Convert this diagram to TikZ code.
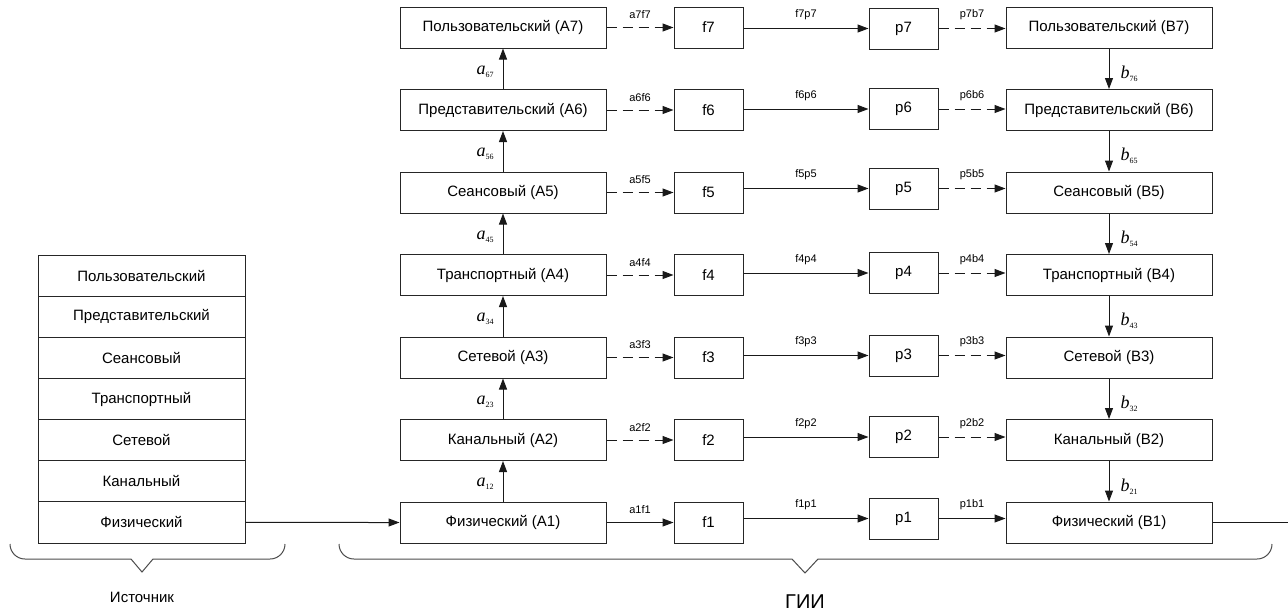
\documentclass[tikz,border=0pt]{standalone}
\usepackage{fontspec}
\setmainfont{Liberation Sans}
\newfontfamily\serifit{Liberation Serif}
\usetikzlibrary{arrows.meta,calc}
\begin{document}
\begin{tikzpicture}[x=1pt,y=-1pt,
  box/.style={draw=black!85, line width=1pt, minimum height=41pt, inner sep=0pt, font=\fontsize{15}{17}\selectfont},
  wide/.style={box, minimum width=206pt},
  small/.style={box, minimum width=69pt},
  stk/.style={box, minimum width=207pt, minimum height=41.1pt},
  conn/.style={line width=1pt, draw=black!90},
  arr/.style={conn, -{Triangle[length=11pt,width=8pt]}},
  darr/.style={arr, dash pattern=on 10pt off 6pt},
  hl/.style={font=\fontsize{11}{12}\selectfont, inner sep=0pt, above=8pt, midway},
  sublab/.style={font=\fontsize{18}{18}\selectfont, inner sep=0pt},
  brace/.style={line width=1pt, draw=black!70},
  captxt/.style={inner sep=0pt, font=\fontsize{15}{17}\selectfont}
]
\useasboundingbox (0,0) rectangle (1288,614);

% source stack
\foreach \k/\t in {1/Физический,2/Канальный,3/Сетевой,4/Транспортный,5/Сеансовый,6/Представительский,7/Пользовательский}{
  \node[stk] (s\k) at (141.5,{522.45-(\k-1)*41.1}) {\t};
}

% main columns
\foreach \k/\t/\o in {1/Физический/-4,2/Канальный/-3,3/Сетевой/-2,4/Транспортный/-2,5/Сеансовый/-4,6/Представительский/-1,7/Пользовательский/1}{
  \node[wide] (A\k) at (503,{522.5-(\k-1)*82.5}) {\t{} (A\k)};
  \node[small] (f\k) at (708.5,{522.5-(\k-1)*82.5}) {f\k};
  \node[small] (p\k) at (903.5,{522.5-(\k-1)*82.5+\o}) {p\k};
  \node[wide] (B\k) at (1109,{522.5-(\k-1)*82.5}) {\t{} (B\k)};
  \draw[arr] (f\k.east |- p\k.west) -- node[hl]{f\k p\k} (p\k.west);
}

% a -> f and p -> B
\draw[arr] (A1.east) -- node[hl]{a1f1} (f1.west);
\draw[arr] (p1.east) -- node[hl]{p1b1} (B1.west |- p1.east);
\foreach \k in {2,...,7}{
  \draw[darr] (A\k.east) -- node[hl]{a\k f\k} (f\k.west);
  \draw[darr] (p\k.east) -- node[hl]{p\k b\k} (B\k.west |- p\k.east);
}

% vertical arrows
\foreach \k [evaluate=\k as \kk using int(\k+1)] in {1,...,6}{
  \draw[arr] (A\k.north) -- (A\kk.south);
  \node[sublab] (la\k) at ($(A\k.north)!0.5!(A\kk.south)+(-18,3)$) {{\serifit\itshape a}\raisebox{-3pt}{\serifit\fontsize{8}{8}\selectfont \k\kk}};
  \draw[arr] (B\kk.south) -- (B\k.north);
  \node[sublab] (lb\k) at ($(B\k.north)!0.5!(B\kk.south)+(20,5)$) {{\serifit\itshape b}\raisebox{-3pt}{\serifit\fontsize{8}{8}\selectfont \kk\k}};
}

% source to A1, B1 output
\draw[arr] (s1.east) -- (A1.west);
\coordinate (out) at (1288,522.5);
\draw[conn] (B1.east) -- (out);

% braces
\draw[brace] (10,544) arc (180:90:15) -- (131,559) -- (142,572) -- (153,559) -- (270,559) arc (90:0:15);
\draw[brace] (339,544) arc (180:90:15) -- (792,559) -- (805,573) -- (818,559) -- (1257,559) arc (90:0:15);

\node[captxt] (src) at (142,597) {Источник};
\node[inner sep=0pt, font=\fontsize{20}{22}\selectfont] (gii) at (805,602) {ГИИ};
\end{tikzpicture}
\end{document}
